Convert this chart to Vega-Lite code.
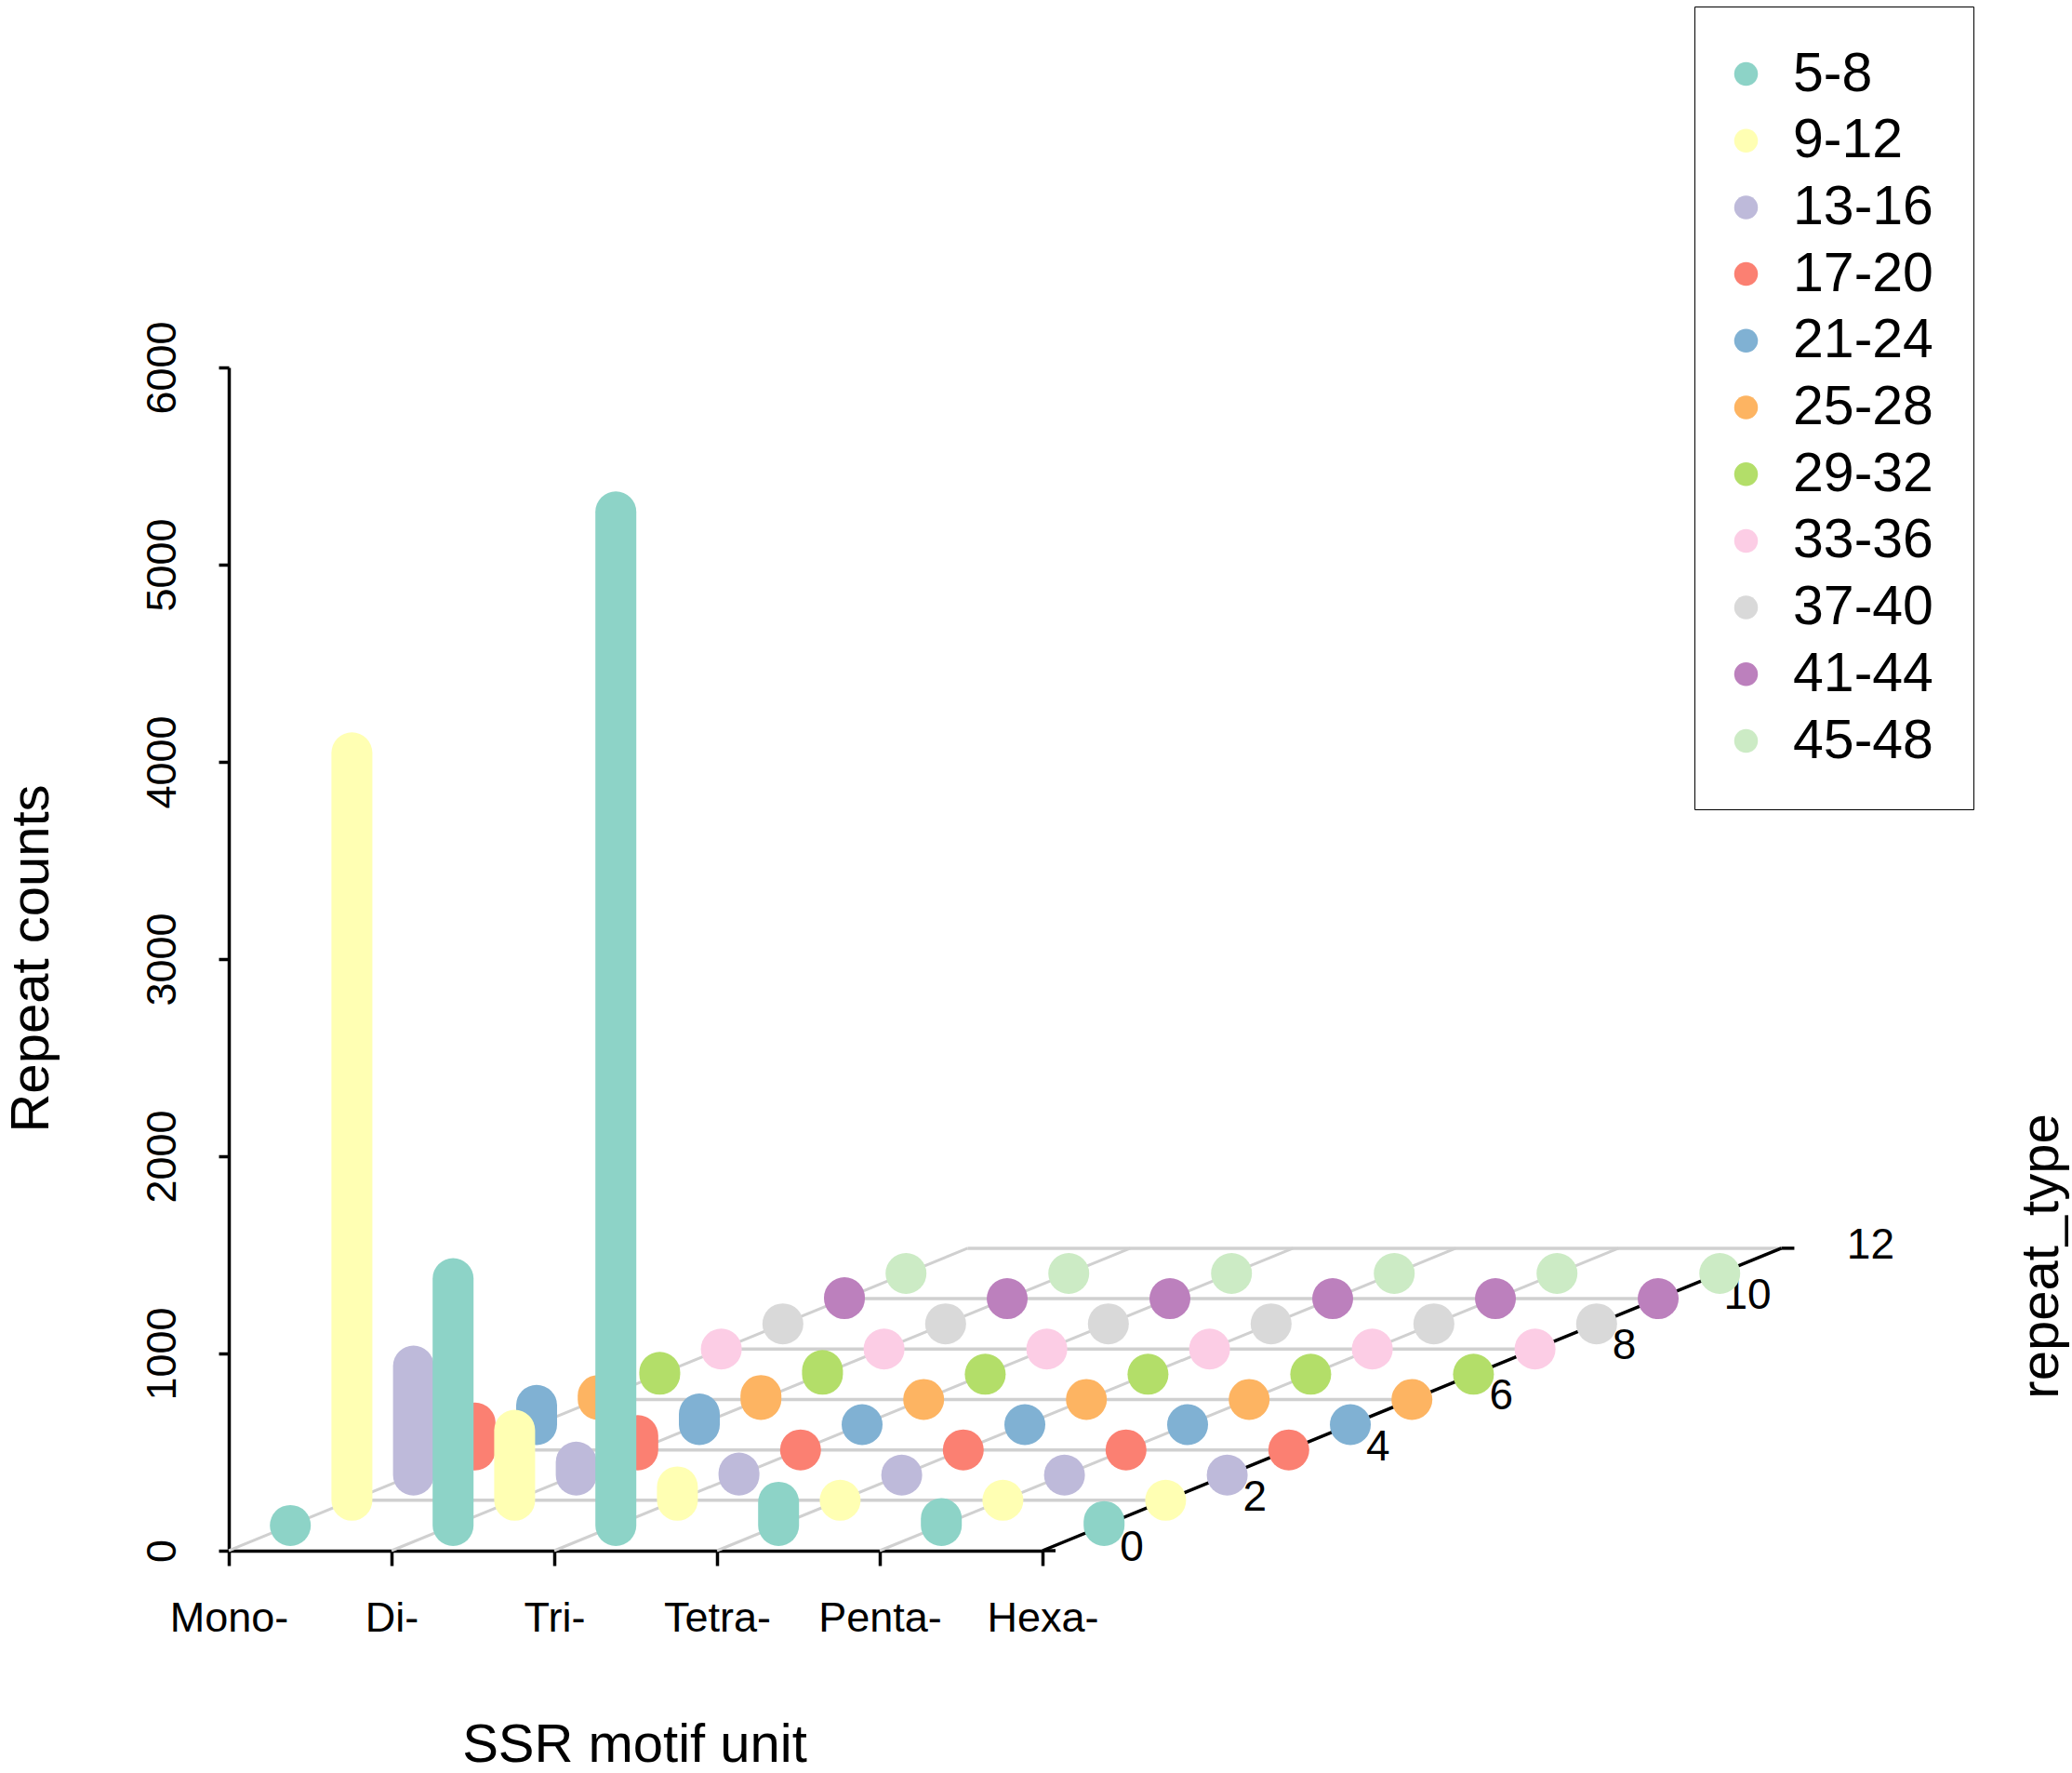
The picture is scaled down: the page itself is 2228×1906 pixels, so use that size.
{
  "$schema": "https://vega.github.io/schema/vega-lite/v6.json",
  "width": 875,
  "height": 1272,
  "autosize": {"type": "none"},
  "padding": {"left": 246, "top": 395, "right": 1107, "bottom": 239},
  "background": "white",
  "config": {
    "view": {"stroke": null},
    "font": "Liberation Sans",
    "axis": {
      "grid": false,
      "domainColor": "black",
      "domainWidth": 3.5,
      "tickColor": "black",
      "tickWidth": 3.5,
      "labelColor": "black",
      "labelFont": "Liberation Sans",
      "titleColor": "black",
      "titleFont": "Liberation Sans",
      "titleFontWeight": "normal",
      "titleFontSize": 58
    }
  },
  "datasets": {
    "ssr": [
      {"motif": "Mono-", "repeat": "5-8", "count": 0},
      {"motif": "Mono-", "repeat": "9-12", "count": 3790},
      {"motif": "Mono-", "repeat": "13-16", "count": 553},
      {"motif": "Mono-", "repeat": "17-20", "count": 136},
      {"motif": "Mono-", "repeat": "21-24", "count": 98},
      {"motif": "Mono-", "repeat": "25-28", "count": 20},
      {"motif": "Mono-", "repeat": "29-32", "count": 10},
      {"motif": "Mono-", "repeat": "33-36", "count": 0},
      {"motif": "Mono-", "repeat": "37-40", "count": 0},
      {"motif": "Mono-", "repeat": "41-44", "count": 5},
      {"motif": "Mono-", "repeat": "45-48", "count": 0},
      {"motif": "Di-", "repeat": "5-8", "count": 1252},
      {"motif": "Di-", "repeat": "9-12", "count": 355},
      {"motif": "Di-", "repeat": "13-16", "count": 66},
      {"motif": "Di-", "repeat": "17-20", "count": 72},
      {"motif": "Di-", "repeat": "21-24", "count": 54},
      {"motif": "Di-", "repeat": "25-28", "count": 20},
      {"motif": "Di-", "repeat": "29-32", "count": 19},
      {"motif": "Di-", "repeat": "33-36", "count": 0},
      {"motif": "Di-", "repeat": "37-40", "count": 0},
      {"motif": "Di-", "repeat": "41-44", "count": 0},
      {"motif": "Di-", "repeat": "45-48", "count": 0},
      {"motif": "Tri-", "repeat": "5-8", "count": 5140},
      {"motif": "Tri-", "repeat": "9-12", "count": 68},
      {"motif": "Tri-", "repeat": "13-16", "count": 10},
      {"motif": "Tri-", "repeat": "17-20", "count": 0},
      {"motif": "Tri-", "repeat": "21-24", "count": 0},
      {"motif": "Tri-", "repeat": "25-28", "count": 0},
      {"motif": "Tri-", "repeat": "29-32", "count": 0},
      {"motif": "Tri-", "repeat": "33-36", "count": 0},
      {"motif": "Tri-", "repeat": "37-40", "count": 0},
      {"motif": "Tri-", "repeat": "41-44", "count": 0},
      {"motif": "Tri-", "repeat": "45-48", "count": 0},
      {"motif": "Tetra-", "repeat": "5-8", "count": 118},
      {"motif": "Tetra-", "repeat": "9-12", "count": 0},
      {"motif": "Tetra-", "repeat": "13-16", "count": 0},
      {"motif": "Tetra-", "repeat": "17-20", "count": 0},
      {"motif": "Tetra-", "repeat": "21-24", "count": 0},
      {"motif": "Tetra-", "repeat": "25-28", "count": 0},
      {"motif": "Tetra-", "repeat": "29-32", "count": 0},
      {"motif": "Tetra-", "repeat": "33-36", "count": 0},
      {"motif": "Tetra-", "repeat": "37-40", "count": 0},
      {"motif": "Tetra-", "repeat": "41-44", "count": 0},
      {"motif": "Tetra-", "repeat": "45-48", "count": 0},
      {"motif": "Penta-", "repeat": "5-8", "count": 35},
      {"motif": "Penta-", "repeat": "9-12", "count": 0},
      {"motif": "Penta-", "repeat": "13-16", "count": 0},
      {"motif": "Penta-", "repeat": "17-20", "count": 0},
      {"motif": "Penta-", "repeat": "21-24", "count": 0},
      {"motif": "Penta-", "repeat": "25-28", "count": 0},
      {"motif": "Penta-", "repeat": "29-32", "count": 0},
      {"motif": "Penta-", "repeat": "33-36", "count": 0},
      {"motif": "Penta-", "repeat": "37-40", "count": 0},
      {"motif": "Penta-", "repeat": "41-44", "count": 0},
      {"motif": "Penta-", "repeat": "45-48", "count": 0},
      {"motif": "Hexa-", "repeat": "5-8", "count": 20},
      {"motif": "Hexa-", "repeat": "9-12", "count": 0},
      {"motif": "Hexa-", "repeat": "13-16", "count": 0},
      {"motif": "Hexa-", "repeat": "17-20", "count": 0},
      {"motif": "Hexa-", "repeat": "21-24", "count": 0},
      {"motif": "Hexa-", "repeat": "25-28", "count": 0},
      {"motif": "Hexa-", "repeat": "29-32", "count": 0},
      {"motif": "Hexa-", "repeat": "33-36", "count": 0},
      {"motif": "Hexa-", "repeat": "37-40", "count": 0},
      {"motif": "Hexa-", "repeat": "41-44", "count": 0},
      {"motif": "Hexa-", "repeat": "45-48", "count": 0}
    ],
    "motifs": [
      {"motif": "Mono-"}, {"motif": "Di-"}, {"motif": "Tri-"},
      {"motif": "Tetra-"}, {"motif": "Penta-"}, {"motif": "Hexa-"}
    ],
    "depthTicks": [
      {"tick": 0}, {"tick": 2}, {"tick": 4}, {"tick": 6},
      {"tick": 8}, {"tick": 10}, {"tick": 12}
    ]
  },
  "resolve": {
    "axis": {"x": "independent", "y": "independent"},
    "legend": {"color": "independent"}
  },
  "layer": [
    {
      "data": {"name": "motifs"},
      "transform": [
        {"calculate": "indexof(['Mono-','Di-','Tri-','Tetra-','Penta-','Hexa-'], datum.motif) + 1", "as": "mi"},
        {"calculate": "datum.mi + 0.3783 * 12", "as": "mi_back"},
        {"calculate": "0", "as": "front"},
        {"calculate": "127.8 * 12", "as": "back"}
      ],
      "mark": {"type": "rule", "color": "#d0d0d0", "strokeWidth": 3},
      "encoding": {
        "x": {"field": "mi", "type": "quantitative", "scale": {"domain": [1, 6], "nice": false, "zero": false}, "axis": null},
        "x2": {"field": "mi_back"},
        "y": {"field": "front", "type": "quantitative", "scale": {"domain": [0, 6000], "nice": false}, "axis": null},
        "y2": {"field": "back"}
      }
    },
    {
      "data": {"name": "depthTicks"},
      "transform": [
        {"filter": "datum.tick > 0"},
        {"calculate": "1 + 0.3783 * datum.tick", "as": "left"},
        {"calculate": "6 + 0.3783 * datum.tick", "as": "right"},
        {"calculate": "127.8 * datum.tick", "as": "level"}
      ],
      "mark": {"type": "rule", "color": "#d0d0d0", "strokeWidth": 3.5},
      "encoding": {
        "x": {"field": "left", "type": "quantitative", "axis": null},
        "x2": {"field": "right"},
        "y": {"field": "level", "type": "quantitative", "axis": null},
        "y2": {"field": "level"}
      }
    },
    {
      "data": {"name": "depthTicks"},
      "transform": [
        {"filter": "datum.tick == 12"},
        {"calculate": "6", "as": "x0"},
        {"calculate": "6 + 0.3783 * datum.tick", "as": "x1"},
        {"calculate": "0", "as": "y0"},
        {"calculate": "127.8 * datum.tick", "as": "y1"}
      ],
      "mark": {"type": "rule", "color": "black", "strokeWidth": 3.5},
      "encoding": {
        "x": {"field": "x0", "type": "quantitative", "axis": null},
        "x2": {"field": "x1"},
        "y": {
          "field": "y0",
          "type": "quantitative",
          "axis": {
            "orient": "right",
            "title": "repeat_type",
            "labels": false,
            "ticks": false,
            "domain": false,
            "titleAngle": -90,
            "titleAlign": "center",
            "titleBaseline": "middle",
            "titleX": 1074,
            "titleY": 955
          }
        },
        "y2": {"field": "y1"}
      }
    },
    {
      "data": {"name": "depthTicks"},
      "transform": [
        {"calculate": "6 + 0.3783 * datum.tick", "as": "tx"},
        {"calculate": "6.08 + 0.3783 * datum.tick", "as": "tx2"},
        {"calculate": "127.8 * datum.tick", "as": "ty"}
      ],
      "mark": {"type": "rule", "color": "black", "strokeWidth": 3.5},
      "encoding": {
        "x": {"field": "tx", "type": "quantitative", "axis": null},
        "x2": {"field": "tx2"},
        "y": {"field": "ty", "type": "quantitative", "axis": null},
        "y2": {"field": "ty"}
      }
    },
    {
      "data": {"name": "depthTicks"},
      "transform": [
        {"calculate": "6 + 0.3783 * datum.tick", "as": "lx"},
        {"calculate": "127.8 * datum.tick", "as": "ly"}
      ],
      "mark": {"type": "text", "fontSize": 46, "font": "Liberation Sans", "color": "black", "align": "center", "baseline": "middle", "dx": 96, "dy": -3},
      "encoding": {
        "x": {"field": "lx", "type": "quantitative", "axis": null},
        "y": {"field": "ly", "type": "quantitative", "axis": null},
        "text": {"field": "tick", "type": "quantitative"}
      }
    },
    {
      "data": {"name": "ssr"},
      "transform": [
        {"calculate": "indexof(['Mono-','Di-','Tri-','Tetra-','Penta-','Hexa-'], datum.motif) + 1", "as": "mi"},
        {"calculate": "indexof(['5-8','9-12','13-16','17-20','21-24','25-28','29-32','33-36','37-40','41-44','45-48'], datum.repeat) + 1", "as": "ti"},
        {"calculate": "datum.mi + 0.3783 * datum.ti", "as": "px"},
        {"calculate": "127.8 * datum.ti + datum.count", "as": "top"}
      ],
      "mark": {"type": "point", "filled": true, "shape": "circle", "size": 1100, "opacity": 1, "strokeWidth": 0},
      "encoding": {
        "x": {"field": "px", "type": "quantitative", "axis": null},
        "y": {"field": "top", "type": "quantitative", "axis": null},
        "color": {
          "field": "repeat",
          "type": "nominal",
          "scale": {
            "domain": ["5-8", "9-12", "13-16", "17-20", "21-24", "25-28", "29-32", "33-36", "37-40", "41-44", "45-48"],
            "range": ["#8DD3C7", "#FFFFB3", "#BEBADA", "#FB8072", "#80B1D3", "#FDB462", "#B3DE69", "#FCCDE5", "#D9D9D9", "#BC80BD", "#CCEBC5"]
          },
          "legend": {
            "orient": "none",
            "legendX": 1576,
            "legendY": -388,
            "title": null,
            "padding": 43,
            "strokeColor": "black",
            "labelFont": "Liberation Sans",
            "labelFontSize": 59,
            "labelColor": "black",
            "labelOffset": 21,
            "symbolOffset": -17,
            "rowPadding": 11.7,
            "symbolType": "circle",
            "symbolSize": 650,
            "symbolStrokeWidth": 0,
            "symbolOpacity": 1,
            "encode": {"legend": {"strokeWidth": {"value": 3}}}
          }
        }
      }
    },
    {
      "data": {"name": "ssr"},
      "transform": [
        {"calculate": "indexof(['Mono-','Di-','Tri-','Tetra-','Penta-','Hexa-'], datum.motif) + 1", "as": "mi"},
        {"calculate": "indexof(['5-8','9-12','13-16','17-20','21-24','25-28','29-32','33-36','37-40','41-44','45-48'], datum.repeat) + 1", "as": "ti"},
        {"calculate": "datum.mi + 0.3783 * datum.ti", "as": "px"},
        {"calculate": "127.8 * datum.ti", "as": "base"},
        {"calculate": "datum.base + datum.count", "as": "top"}
      ],
      "mark": {"type": "rule", "strokeWidth": 44, "strokeCap": "round", "opacity": 1},
      "encoding": {
        "x": {
          "field": "px",
          "type": "quantitative",
          "axis": {
            "values": [1, 2, 3, 4, 5, 6],
            "labelExpr": "['Mono-','Di-','Tri-','Tetra-','Penta-','Hexa-'][datum.value - 1]",
            "labelFontSize": 45,
            "labelPadding": 34,
            "labelBaseline": "top",
            "labelFlush": false,
            "labelOverlap": false,
            "tickSize": 16,
            "title": "SSR motif unit",
            "titleX": 436,
            "titleY": 209,
            "titleAlign": "center",
            "titleBaseline": "middle"
          }
        },
        "y": {
          "field": "top",
          "type": "quantitative",
          "axis": {
            "orient": "left",
            "values": [0, 1000, 2000, 3000, 4000, 5000, 6000],
            "format": "d",
            "labelAngle": -90,
            "labelAlign": "center",
            "labelBaseline": "alphabetic",
            "labelFontSize": 45,
            "labelPadding": 47,
            "labelFlush": false,
            "labelOverlap": false,
            "tickSize": 11,
            "title": "Repeat counts",
            "titleAngle": -90,
            "titleAlign": "center",
            "titleBaseline": "middle",
            "titleX": -212,
            "titleY": 635
          }
        },
        "y2": {"field": "base"},
        "color": {"field": "repeat", "type": "nominal", "legend": null},
        "order": {"field": "ti", "sort": "descending"}
      }
    }
  ]
}
